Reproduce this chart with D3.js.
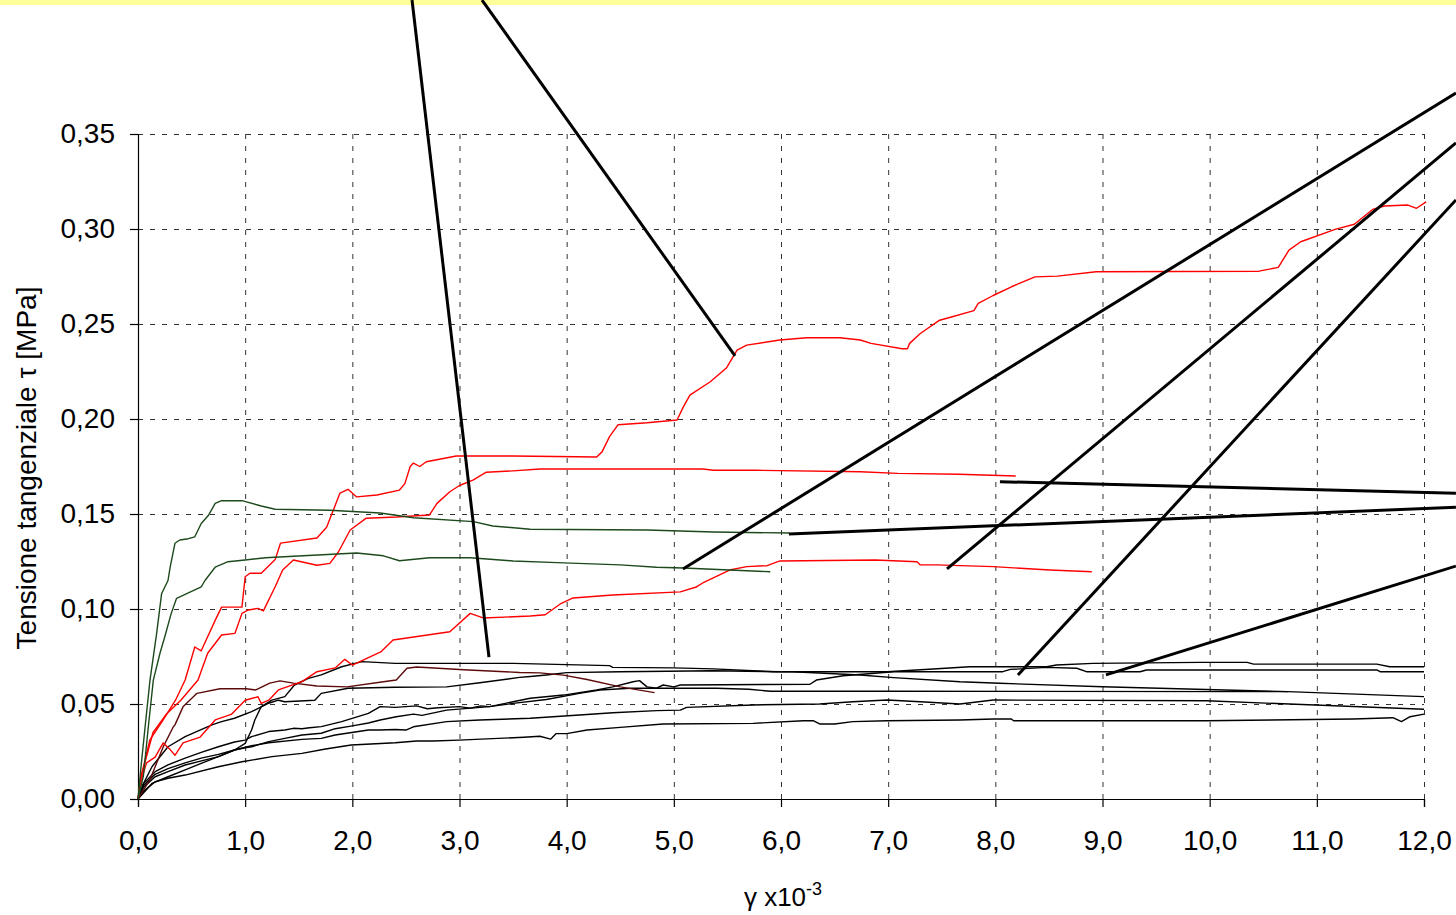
<!DOCTYPE html>
<html>
<head>
<meta charset="utf-8">
<script src="https://cdn.jsdelivr.net/npm/d3@7"></script>
<style>
    body { margin: 0; background: #fff; }
    svg { display: block; font-family: "Liberation Sans", Arial, sans-serif; }
</style>
</head>
<body>
<svg id="chart" width="1456" height="915"></svg>
<script>
// shear strain (x10^-3) vs shear stress tau [MPa]
const xTicks = [0, 1, 2, 3, 4, 5, 6, 7, 8, 9, 10, 11, 12];
const yTicks = [0, 0.05, 0.10, 0.15, 0.20, 0.25, 0.30, 0.35];

// red curves
const red1 = [[0,0],[0.03,0.012],[0.11,0.031],[0.235,0.0416],[0.35,0.052],[0.44,0.0626],[0.53,0.08],[0.59,0.078],[0.72,0.094],[0.78,0.101],[0.97,0.101],[1.0,0.117],[1.045,0.1188],[1.15,0.1188],[1.28,0.126],[1.33,0.1347],[1.67,0.1374],[1.76,0.143],[1.885,0.161],[1.96,0.163],[2.04,0.159],[2.23,0.16],[2.44,0.1626],[2.49,0.166],[2.54,0.175],[2.57,0.1768],[2.63,0.175],[2.69,0.1775],[2.97,0.1805],[3.5,0.1805],[4.28,0.18],[4.33,0.1827],[4.4,0.1907],[4.48,0.197],[4.75,0.198],[5.03,0.1995],[5.09,0.2065],[5.15,0.2126],[5.34,0.2196],[5.49,0.2268],[5.59,0.2363],[5.68,0.2389],[5.99,0.2416],[6.24,0.2428],[6.55,0.2428],[6.74,0.2416],[6.84,0.2398],[7.13,0.237],[7.18,0.237],[7.2,0.2398],[7.3,0.245],[7.48,0.252],[7.59,0.2537],[7.8,0.257],[7.84,0.2608],[7.98,0.265],[8.15,0.2696],[8.37,0.2748],[8.58,0.2752],[8.94,0.2775],[10.46,0.2778],[10.64,0.2798],[10.74,0.2889],[10.85,0.2933],[11.17,0.2998],[11.35,0.3025],[11.52,0.3103],[11.63,0.3121],[11.85,0.3126],[11.93,0.3109],[12.02,0.3143]];
const red2 = [[0,0],[0.03,0.012],[0.14,0.035],[0.27,0.045],[0.4,0.052],[0.56,0.0626],[0.65,0.0767],[0.78,0.0863],[0.905,0.0872],[0.97,0.0977],[1.03,0.0995],[1.12,0.1003],[1.17,0.099],[1.28,0.1117],[1.35,0.1205],[1.45,0.1258],[1.67,0.123],[1.79,0.124],[1.87,0.13],[1.98,0.1416],[2.13,0.1478],[2.41,0.1484],[2.72,0.1495],[2.79,0.1556],[2.91,0.1617],[3.0,0.165],[3.13,0.168],[3.25,0.172],[3.5,0.1727],[3.75,0.1737],[5.27,0.1737],[5.37,0.173],[5.77,0.173],[6.74,0.1722],[7.09,0.1714],[7.66,0.1709],[8.19,0.17]];
const red3 = [[0,0],[0.03,0.01],[0.08,0.019],[0.16,0.022],[0.235,0.0295],[0.3,0.026],[0.345,0.023],[0.42,0.0295],[0.58,0.0326],[0.72,0.0416],[0.87,0.0445],[1.0,0.052],[1.12,0.0538],[1.15,0.0503],[1.22,0.052],[1.31,0.0574],[1.53,0.0618],[1.67,0.067],[1.84,0.069],[1.93,0.0735],[2.0,0.0705],[2.27,0.0776],[2.38,0.0837],[2.91,0.088],[3.1,0.0977],[3.22,0.0953],[3.66,0.0963],[3.8,0.097],[3.95,0.103],[4.06,0.1058],[4.43,0.1074],[5.06,0.109],[5.21,0.1116],[5.27,0.1137],[5.52,0.1205],[5.68,0.1223],[5.87,0.1228],[5.99,0.1253],[6.88,0.1258],[7.27,0.1249],[7.3,0.1232],[7.45,0.1232],[7.98,0.1223],[8.51,0.1205],[8.9,0.1196]];

// dark green curves
const green1 = [[0,0],[0.03,0.018],[0.07,0.04],[0.112,0.0626],[0.174,0.0872],[0.22,0.108],[0.28,0.115],[0.3,0.122],[0.345,0.1346],[0.39,0.1363],[0.47,0.137],[0.53,0.138],[0.59,0.145],[0.66,0.1495],[0.72,0.1556],[0.78,0.157],[0.97,0.157],[1.15,0.1542],[1.28,0.1525],[1.79,0.152],[2.26,0.1505],[2.57,0.148],[3.13,0.146],[3.31,0.1437],[3.66,0.142],[4.75,0.1416],[5.37,0.1405],[6.08,0.14]];
const green2 = [[0,0],[0.05,0.012],[0.1,0.04],[0.143,0.0626],[0.205,0.0767],[0.25,0.0854],[0.31,0.0977],[0.36,0.1056],[0.59,0.1117],[0.625,0.115],[0.72,0.122],[0.84,0.1249],[1.0,0.1258],[1.19,0.127],[1.54,0.128],[2.04,0.1295],[2.29,0.128],[2.44,0.1254],[2.72,0.127],[3.1,0.127],[3.5,0.1253],[3.91,0.1244],[4.5,0.1232],[4.84,0.122],[5.09,0.1216],[5.9,0.1196]];

// dark red curve
const maroon1 = [[0,0],[0.11,0.01],[0.235,0.0274],[0.33,0.038],[0.345,0.039],[0.42,0.0485],[0.55,0.0556],[0.765,0.058],[1.01,0.058],[1.1,0.0574],[1.23,0.061],[1.325,0.0622],[1.45,0.061],[1.67,0.0595],[1.95,0.059],[2.29,0.0617],[2.41,0.0626],[2.51,0.0688],[2.6,0.0695],[3.04,0.068],[3.56,0.0666],[3.75,0.0664],[3.97,0.0652],[4.19,0.0629],[4.5,0.059],[4.82,0.056]];

// black curves
const black1 = [[0,0],[0.13,0.0082],[0.28,0.0117],[0.44,0.0153],[0.59,0.0188],[0.75,0.0223],[0.9,0.0258],[1.0,0.0293],[1.06,0.0363],[1.09,0.0416],[1.15,0.0486],[1.25,0.052],[1.37,0.0539],[1.46,0.06],[1.59,0.0635],[1.71,0.0653],[1.9,0.0696],[2.09,0.0723],[2.4,0.0714],[3.5,0.0714],[4.4,0.0702],[4.43,0.0693],[5.0,0.069],[5.37,0.0685],[5.93,0.067],[6.11,0.067],[6.74,0.0653],[7.05,0.0639],[7.67,0.0617],[8.04,0.0609],[9.0,0.0591],[10.73,0.0565],[12,0.0539]];
const black2 = [[0,0],[0.05,0.008],[0.13,0.017],[0.28,0.0275],[0.44,0.0328],[0.69,0.039],[0.78,0.0407],[0.9,0.0425],[1.06,0.046],[1.22,0.0504],[1.31,0.052],[1.37,0.0512],[1.65,0.052],[1.71,0.0556],[1.96,0.0583],[2.4,0.0588],[2.88,0.059],[3.19,0.0612],[3.56,0.064],[3.66,0.0645],[3.81,0.0653],[4.0,0.0665],[4.5,0.067],[5.37,0.0675],[6.0,0.067],[6.99,0.067],[7.42,0.0684],[7.76,0.0696],[8.48,0.0696],[8.57,0.0705],[8.91,0.0714],[9.91,0.0719],[10.35,0.0719],[10.41,0.071],[11.56,0.071],[11.68,0.0696],[12,0.0696]];
const black3 = [[0,0],[0.05,0.008],[0.16,0.0144],[0.28,0.018],[0.44,0.0215],[0.59,0.0245],[0.75,0.0275],[0.9,0.03],[1.0,0.031],[1.06,0.0328],[1.22,0.0355],[1.37,0.0363],[1.45,0.0372],[1.53,0.037],[1.6,0.0375],[1.71,0.0381],[1.9,0.0407],[2.15,0.0451],[2.26,0.0486],[2.4,0.0482],[2.6,0.049],[2.7,0.0475],[2.8,0.048],[3.0,0.0486],[3.1,0.0478],[3.2,0.049],[3.28,0.0486],[3.5,0.0512],[3.66,0.053],[3.97,0.0547],[4.28,0.0574],[4.43,0.059],[4.62,0.0617],[4.68,0.0623],[4.75,0.059],[4.84,0.0583],[4.9,0.06],[5.0,0.059],[5.06,0.06],[6.27,0.0604],[6.33,0.0626],[6.58,0.0649],[7.05,0.067],[8.07,0.067],[8.14,0.0682],[8.48,0.0693],[8.76,0.0688],[8.85,0.067],[9.35,0.067],[9.41,0.0679],[11.56,0.0679],[11.59,0.067],[12,0.067]];
const black4 = [[0,0],[0.05,0.007],[0.16,0.013],[0.28,0.016],[0.44,0.019],[0.59,0.0215],[0.75,0.0235],[0.9,0.0258],[1.0,0.027],[1.06,0.0275],[1.22,0.0302],[1.37,0.0319],[1.53,0.0337],[1.71,0.0346],[1.84,0.037],[2.0,0.0385],[2.15,0.04],[2.26,0.0416],[2.41,0.0433],[2.57,0.0447],[2.65,0.044],[2.88,0.0468],[3.28,0.0486],[3.5,0.0503],[3.81,0.0524],[4.12,0.0556],[4.31,0.0574],[4.59,0.0583],[5.06,0.0583],[5.4,0.0583],[5.7,0.0578],[5.9,0.0567],[7.0,0.0567],[10.73,0.0565]];
const black5 = [[0,0],[0.05,0.006],[0.16,0.0117],[0.28,0.0144],[0.44,0.0179],[0.75,0.0223],[0.9,0.0258],[1.06,0.028],[1.22,0.0296],[1.53,0.0314],[1.71,0.0319],[1.84,0.0337],[2.15,0.0363],[2.26,0.0363],[2.4,0.0366],[2.5,0.0363],[2.57,0.038],[2.88,0.0407],[3.19,0.0416],[3.66,0.0425],[4.12,0.0442],[4.43,0.0454],[4.84,0.0465],[5.06,0.0468],[5.12,0.0482],[5.74,0.0495],[6.36,0.05],[6.67,0.0512],[6.99,0.0521],[7.3,0.0512],[7.67,0.05],[7.98,0.0521],[9.97,0.0517],[12,0.0472]];
const black6 = [[0,0],[0.05,0.004],[0.16,0.0091],[0.28,0.0109],[0.44,0.0126],[0.75,0.017],[0.97,0.0196],[1.25,0.0223],[1.53,0.024],[1.75,0.0263],[1.99,0.0284],[2.4,0.0296],[2.6,0.0305],[2.75,0.0305],[3.0,0.031],[3.2,0.0315],[3.6,0.0325],[3.75,0.033],[3.85,0.0315],[3.9,0.0344],[4.0,0.0344],[4.19,0.0363],[4.5,0.0377],[4.9,0.0395],[5.74,0.0398],[6.21,0.0412],[6.3,0.0412],[6.36,0.0395],[6.5,0.0395],[6.67,0.0407],[6.99,0.0412],[7.67,0.0416],[7.98,0.0421],[8.15,0.0421],[8.17,0.0412],[9.97,0.0412],[11.34,0.0421],[11.71,0.0428],[11.79,0.0407],[11.87,0.0433],[12,0.0447]];

// leader lines pointing to the (cropped) photos, in data units
const leaders = [
    [[2.557, 0.4205], [3.275, 0.0747]],
    [[3.21, 0.4205], [5.571, 0.2332]],
    [[12.298, 0.3716], [5.085, 0.1211]],
    [[12.298, 0.3453], [7.549, 0.1211]],
    [[12.298, 0.3153], [8.211, 0.0653]],
    [[12.298, 0.1226], [9.032, 0.0653]],
    [[8.043, 0.167], [12.298, 0.1609]],
    [[6.074, 0.1395], [12.298, 0.1535]]
];

const series = [
    { data: black6, color: "#000" },
    { data: black5, color: "#000" },
    { data: black4, color: "#000" },
    { data: black3, color: "#000" },
    { data: black2, color: "#000" },
    { data: black1, color: "#000" },
    { data: maroon1, color: "#5c0a0a" },
    { data: red3, color: "#ff0000" },
    { data: red2, color: "#ff0000" },
    { data: red1, color: "#ff0000" },
    { data: green2, color: "#1d4a1d" },
    { data: green1, color: "#1d4a1d" }
];

const svg = d3.select("svg#chart");
const bounds = { minX: 138, maxX: 1424, minY: 134, maxY: 799 };

// yellow strip across the top
svg.append("rect").attr("x", 0).attr("y", 0).attr("width", 1456).attr("height", 5).attr("fill", "#ffff99");

const scaleX = d3.scaleLinear().domain([0, 12]).range([bounds.minX, bounds.maxX]);
const scaleY = d3.scaleLinear().domain([0, 0.35]).range([bounds.maxY, bounds.minY]);
const comma = v => d3.format(".1f")(v).replace(".", ",");
const commaY = v => d3.format(".2f")(v).replace(".", ",");

// dashed grid
const gridX = svg.append("g").attr("transform", `translate(0 ${bounds.maxY})`)
    .call(d3.axisBottom(scaleX).tickValues(xTicks.slice(1)).tickSize(-(bounds.maxY - bounds.minY)).tickFormat(""));
const gridY = svg.append("g").attr("transform", `translate(${bounds.minX} 0)`)
    .call(d3.axisLeft(scaleY).tickValues(yTicks.slice(1)).tickSize(-(bounds.maxX - bounds.minX)).tickFormat(""));
[gridX, gridY].forEach(g => {
    g.select(".domain").remove();
    g.selectAll("line").attr("stroke", "#333").attr("stroke-dasharray", "5 7");
});

// axes
const xAxis = svg.append("g").attr("transform", `translate(0 ${bounds.maxY})`)
    .call(d3.axisBottom(scaleX).tickValues(xTicks).tickSize(8).tickPadding(23).tickFormat(comma));
const yAxis = svg.append("g").attr("transform", `translate(${bounds.minX} 0)`)
    .call(d3.axisLeft(scaleY).tickValues(yTicks).tickSize(8).tickPadding(15).tickFormat(commaY));
[xAxis, yAxis].forEach(g => {
    g.selectAll("text").attr("font-family", "Liberation Sans, Arial, sans-serif").attr("font-size", 28).attr("fill", "#000");
    g.selectAll("line, .domain").attr("stroke", "#000").attr("stroke-width", 1.2);
});

// curves
const line = d3.line().x(d => scaleX(d[0])).y(d => scaleY(d[1]));
svg.append("g").selectAll("path").data(series).join("path")
    .attr("d", d => line(d.data))
    .attr("fill", "none")
    .attr("stroke", d => d.color)
    .attr("stroke-width", 1.4)
    .attr("stroke-linejoin", "round");

// leader lines
svg.append("g").selectAll("path").data(leaders).join("path")
    .attr("d", line)
    .attr("fill", "none")
    .attr("stroke", "#000")
    .attr("stroke-width", 3);

// axis titles
svg.append("text")
    .attr("transform", "translate(36 468) rotate(-90)")
    .attr("text-anchor", "middle")
    .attr("font-size", 28)
    .text("Tensione tangenziale  \u03c4 [MPa]");

const xt = svg.append("text")
    .attr("x", 783).attr("y", 906)
    .attr("text-anchor", "middle")
    .attr("font-size", 26);
xt.append("tspan").text("\u03b3 x10");
xt.append("tspan").attr("dy", -11).attr("font-size", 18).text("-3");
</script>
</body>
</html>
